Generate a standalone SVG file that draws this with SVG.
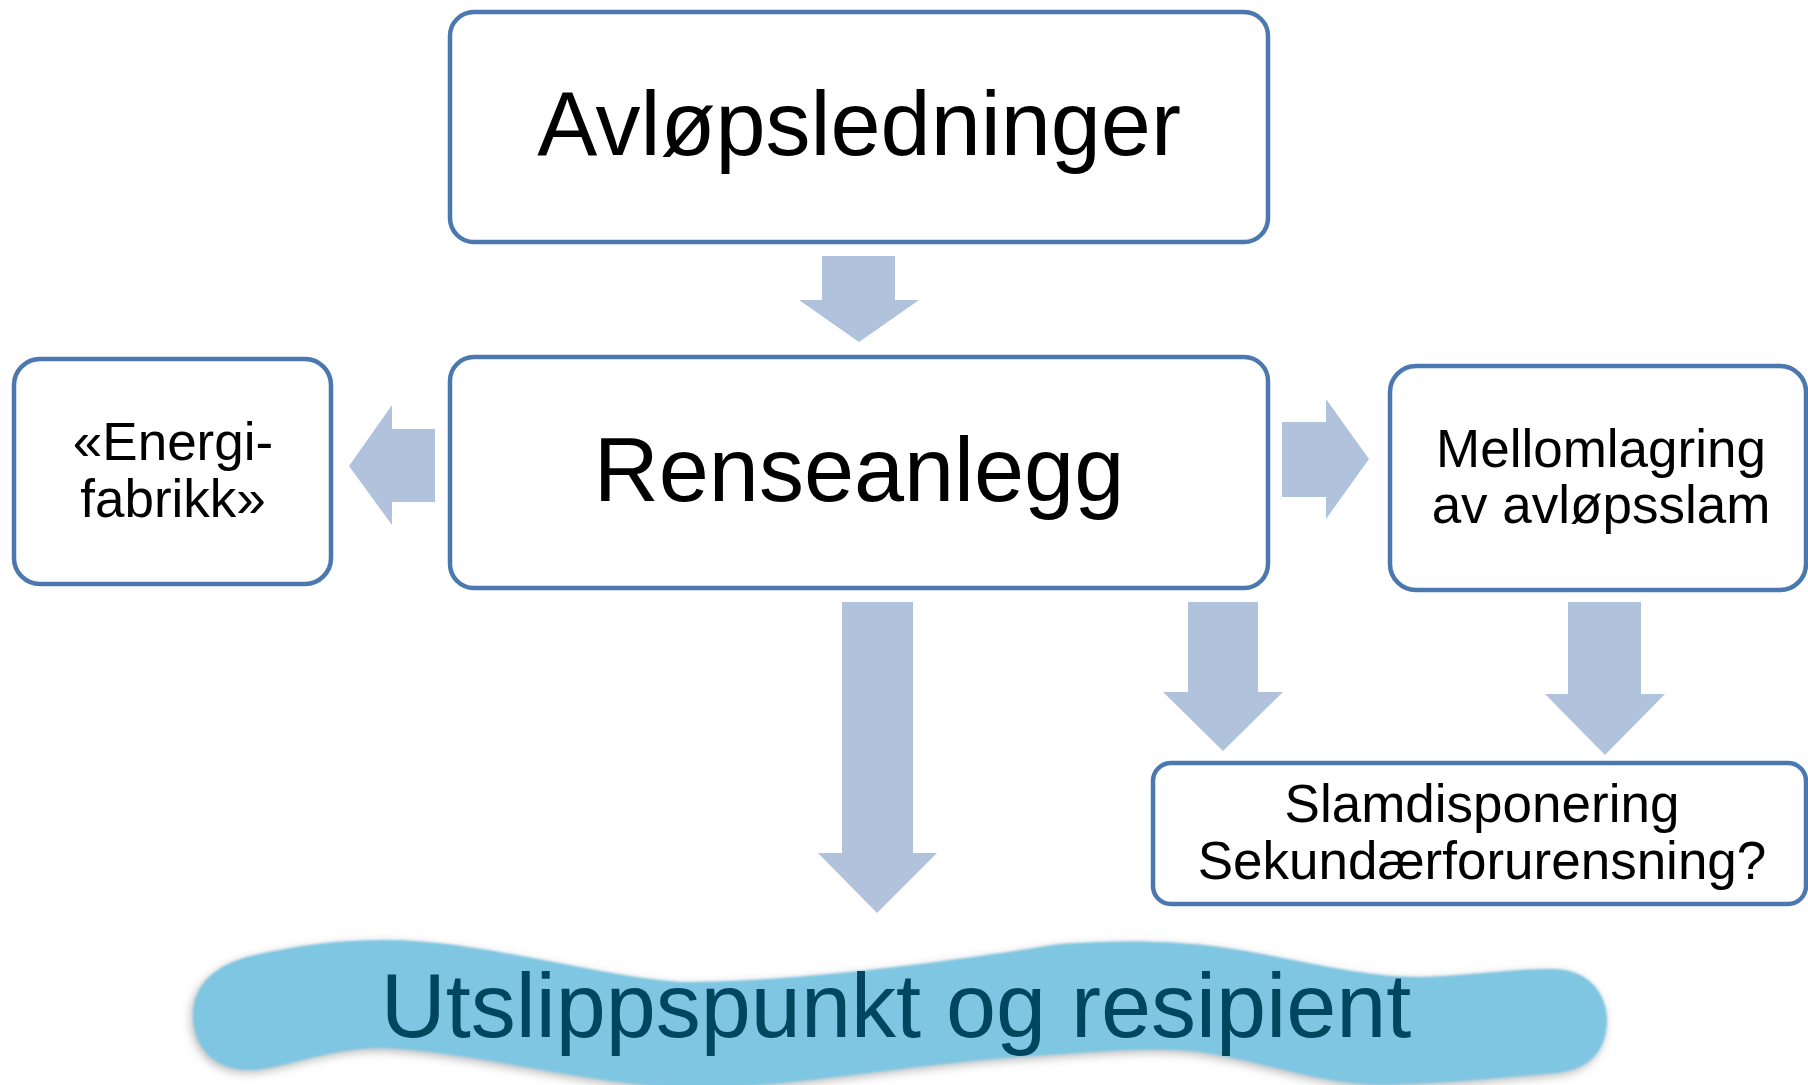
<svg xmlns="http://www.w3.org/2000/svg" width="1808" height="1085" viewBox="0 0 1808 1085">
<style>
.box{fill:#FFFFFF;stroke:#4A78AF;stroke-width:4.5}
.arrow{fill:#B1C2DD}
.t{font-family:"Liberation Sans",Arial,sans-serif;fill:#000000;text-anchor:middle}
.big{font-size:90px}
.small{font-size:53px}
.wave{fill:#7FC6E2}
.wt{font-family:"Liberation Sans",Arial,sans-serif;fill:#00465F;font-size:90px;text-anchor:middle}
</style>
<defs>
<filter id="shadow" x="-5%" y="-30%" width="110%" height="160%">
<feGaussianBlur in="SourceAlpha" stdDeviation="5" result="b"/>
<feOffset in="b" dx="-2" dy="3" result="o"/>
<feFlood flood-color="#808080" flood-opacity="0.55"/>
<feComposite in2="o" operator="in" result="s"/>
<feGaussianBlur in="SourceGraphic" stdDeviation="1" result="g"/>
<feMerge><feMergeNode in="s"/><feMergeNode in="g"/></feMerge>
</filter>
</defs>
<rect width="1808" height="1085" fill="#FFFFFF"/>
<g id="connectors">
<polygon class="arrow" points="822,256 895,256 895,300 919,300 859,342 799,300 822,300"/>
<polygon class="arrow" points="435,429 435,502 392,502 392,525 349,466 392,405 392,429"/>
<polygon class="arrow" points="1282,422 1326,422 1326,399 1369,459 1326,519 1326,497 1282,497"/>
<polygon class="arrow" points="842,602 913,602 913,853 937,853 877,913 818,853 842,853"/>
<polygon class="arrow" points="1188,602 1258,602 1258,692 1283,692 1223,751 1163,692 1188,692"/>
<polygon class="arrow" points="1568,602 1641,602 1641,694 1665,694 1605,755 1545,694 1568,694"/>
</g>
<g id="node-avlopsledninger">
<rect class="box" x="450" y="12" width="818" height="230" rx="24"/>
<text class="t big" x="859" y="155">Avløpsledninger</text>
</g>
<g id="node-renseanlegg">
<rect class="box" x="450" y="357" width="818" height="231" rx="24"/>
<text class="t big" x="859" y="501">Renseanlegg</text>
</g>
<g id="node-energifabrikk">
<rect class="box" x="14" y="359" width="317" height="225" rx="26"/>
<text class="t small" x="173" y="460">«Energi-</text>
<text class="t small" x="173" y="517">fabrikk»</text>
</g>
<g id="node-mellomlagring">
<rect class="box" x="1390" y="366" width="416" height="224" rx="26"/>
<text class="t small" x="1601" y="467">Mellomlagring</text>
<text class="t small" x="1601" y="523">av avløpsslam</text>
</g>
<g id="node-slamdisponering">
<rect class="box" x="1153" y="763" width="653" height="141" rx="18"/>
<text class="t small" x="1482" y="822">Slamdisponering</text>
<text class="t small" x="1482" y="879">Sekundærforurensning?</text>
</g>
<g id="node-utslippspunkt">
<path class="wave" filter="url(#shadow)" d="M193,1015 C193,985 215,964 255,955 C300,945 340,940 385,940 C480,940 590,975 680,982 C800,982 960,960 1060,944 C1120,940 1180,940 1240,950 C1300,960 1360,977 1420,977 C1480,975 1520,968 1555,969 C1590,970 1607,995 1607,1020 C1607,1050 1590,1070 1555,1073 C1500,1078 1440,1084 1383,1085 C1320,1085 1260,1060 1200,1052 C1150,1046 1100,1052 1017,1057 C900,1066 780,1088 700,1088 C600,1088 480,1052 383,1048 C330,1048 290,1066 255,1070 C215,1072 193,1048 193,1015 Z"/>
<text class="wt" x="896" y="1037">Utslippspunkt og resipient</text>
</g>
</svg>
